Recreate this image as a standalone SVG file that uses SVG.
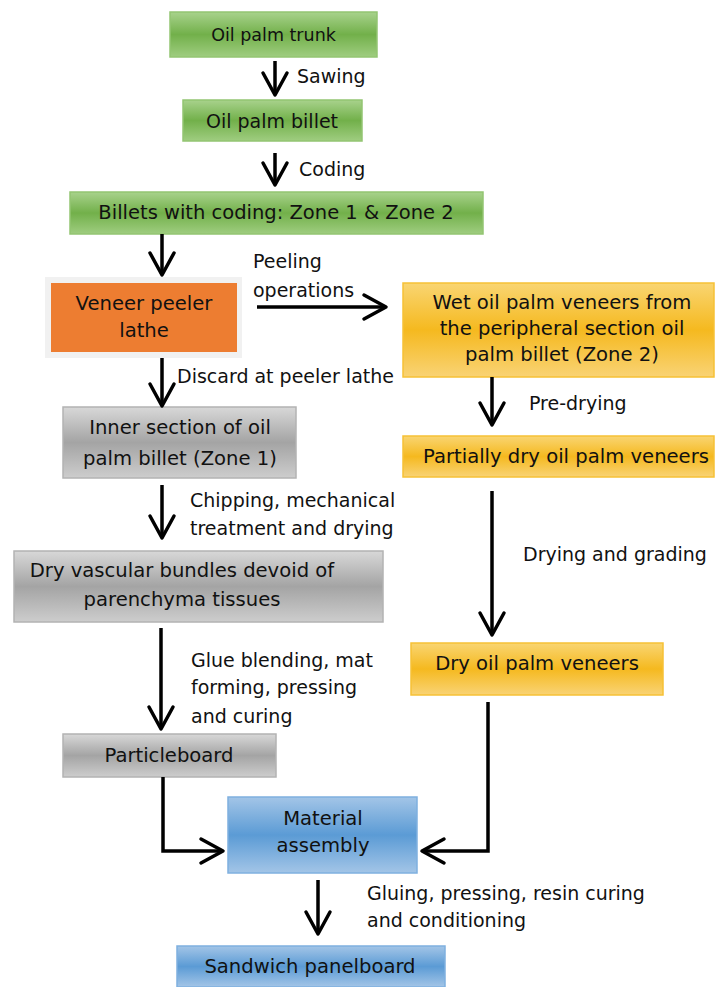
<svg xmlns="http://www.w3.org/2000/svg" width="725" height="987" viewBox="0 0 725 987">
<defs>
<linearGradient id="gGreen" x1="0" y1="0" x2="0" y2="1"><stop offset="0" stop-color="#a8d28c"/><stop offset="0.5" stop-color="#72b04a"/><stop offset="1" stop-color="#9fcd80"/></linearGradient>
<linearGradient id="gYellow" x1="0" y1="0" x2="0" y2="1"><stop offset="0" stop-color="#f9d572"/><stop offset="0.5" stop-color="#f5b91f"/><stop offset="1" stop-color="#f9d375"/></linearGradient>
<linearGradient id="gGray" x1="0" y1="0" x2="0" y2="1"><stop offset="0" stop-color="#d8d8d8"/><stop offset="0.5" stop-color="#a4a4a4"/><stop offset="1" stop-color="#cdcdcd"/></linearGradient>
<linearGradient id="gBlue" x1="0" y1="0" x2="0" y2="1"><stop offset="0" stop-color="#a3c5e7"/><stop offset="0.5" stop-color="#5b9bd5"/><stop offset="1" stop-color="#a3c5e7"/></linearGradient>
<marker id="arr" markerUnits="userSpaceOnUse" markerWidth="40" markerHeight="40" refX="0" refY="0" viewBox="-30 -20 40 40" orient="auto" overflow="visible">
<path d="M-22,-12 L0,0 L-22,12" fill="none" stroke="#000" stroke-width="3.5" stroke-linejoin="round" stroke-linecap="round"/>
</marker>
<style>
text{font-family:"DejaVu Sans","Liberation Sans",sans-serif;font-size:19px;fill:#111;}
.c{text-anchor:middle;font-size:19.6px;}
.green{fill:url(#gGreen);stroke:#93c572;stroke-width:1.5;}
.yellow{fill:url(#gYellow);stroke:#f6c136;stroke-width:1.5;}
.gray{fill:url(#gGray);stroke:#b3b3b3;stroke-width:1.5;}
.blue{fill:url(#gBlue);stroke:#7fb0df;stroke-width:1.5;}
.conn{fill:none;stroke:#000;stroke-width:3.5;marker-end:url(#arr);}
</style>
</defs>
<rect width="725" height="987" fill="#fff"/>

<g id="n-trunk"><rect class="green" x="170" y="12" width="207" height="45"/><text class="c" x="273.5" y="41" style="font-size:17.5px">Oil palm trunk</text></g>
<g id="n-billet"><rect class="green" x="183" y="100" width="179" height="41"/><text class="c" x="272" y="128" style="font-size:19px">Oil palm billet</text></g>
<g id="n-coding"><rect class="green" x="70" y="192" width="413" height="42"/><text class="c" x="276" y="219" style="font-size:19.5px">Billets with coding: Zone 1 &amp; Zone 2</text></g>
<g id="n-lathe"><rect x="45" y="277" width="197" height="81" fill="#f1f1f1"/><rect x="51" y="283" width="186" height="69" fill="#ed7d31"/><text class="c" x="144" y="310">Veneer peeler</text><text class="c" x="144" y="337">lathe</text></g>
<g id="n-wet"><rect class="yellow" x="403" y="283" width="311" height="94"/><text class="c" x="562" y="309">Wet oil palm veneers from</text><text class="c" x="562" y="335">the peripheral section oil</text><text class="c" x="562" y="361">palm billet (Zone 2)</text></g>
<g id="n-partial"><rect class="yellow" x="403" y="436" width="311" height="41"/><text class="c" x="566" y="463">Partially dry oil palm veneers</text></g>
<g id="n-inner"><rect class="gray" x="63" y="407" width="233" height="71"/><text class="c" x="180" y="434">Inner section of oil</text><text class="c" x="180" y="465">palm billet (Zone 1)</text></g>
<g id="n-vascular"><rect class="gray" x="14" y="551" width="369" height="71"/><text class="c" x="182" y="577">Dry vascular bundles devoid of</text><text class="c" x="182" y="606">parenchyma tissues</text></g>
<g id="n-dryveneer"><rect class="yellow" x="411" y="643" width="252" height="52"/><text class="c" x="537" y="670">Dry oil palm veneers</text></g>
<g id="n-particle"><rect class="gray" x="63" y="734" width="213" height="43"/><text class="c" x="169" y="762">Particleboard</text></g>
<g id="n-assembly"><rect class="blue" x="228" y="797" width="189" height="76"/><text class="c" x="323" y="825">Material</text><text class="c" x="323" y="852">assembly</text></g>
<g id="n-sandwich"><rect class="blue" x="177" y="946" width="268" height="41"/><text class="c" x="310" y="973">Sandwich panelboard</text></g>

<g id="connectors">
<path class="conn" d="M275,61 V95"/>
<text x="297" y="83">Sawing</text>
<path class="conn" d="M275,153 V185"/>
<text x="299" y="176">Coding</text>
<path class="conn" d="M162,234 V275"/>
<path class="conn" d="M257,307 H386"/>
<text x="253" y="268">Peeling</text>
<text x="253" y="297">operations</text>
<path class="conn" d="M162,358 V406"/>
<text x="177" y="383">Discard at peeler lathe</text>
<path class="conn" d="M492,377 V425"/>
<text x="529" y="410">Pre-drying</text>
<path class="conn" d="M162,485 V538"/>
<text x="190" y="507">Chipping, mechanical</text>
<text x="190" y="535">treatment and drying</text>
<path class="conn" d="M492,491 V635"/>
<text x="523" y="561">Drying and grading</text>
<path class="conn" d="M161,628 V729"/>
<text x="191" y="667">Glue blending, mat</text>
<text x="191" y="694">forming, pressing</text>
<text x="191" y="723">and curing</text>
<path class="conn" d="M163,777 V851 H223"/>
<path class="conn" d="M488,702 V851 H422"/>
<path class="conn" d="M318,880 V934"/>
<text x="367" y="900">Gluing, pressing, resin curing</text>
<text x="367" y="927">and conditioning</text>
</g>
</svg>
